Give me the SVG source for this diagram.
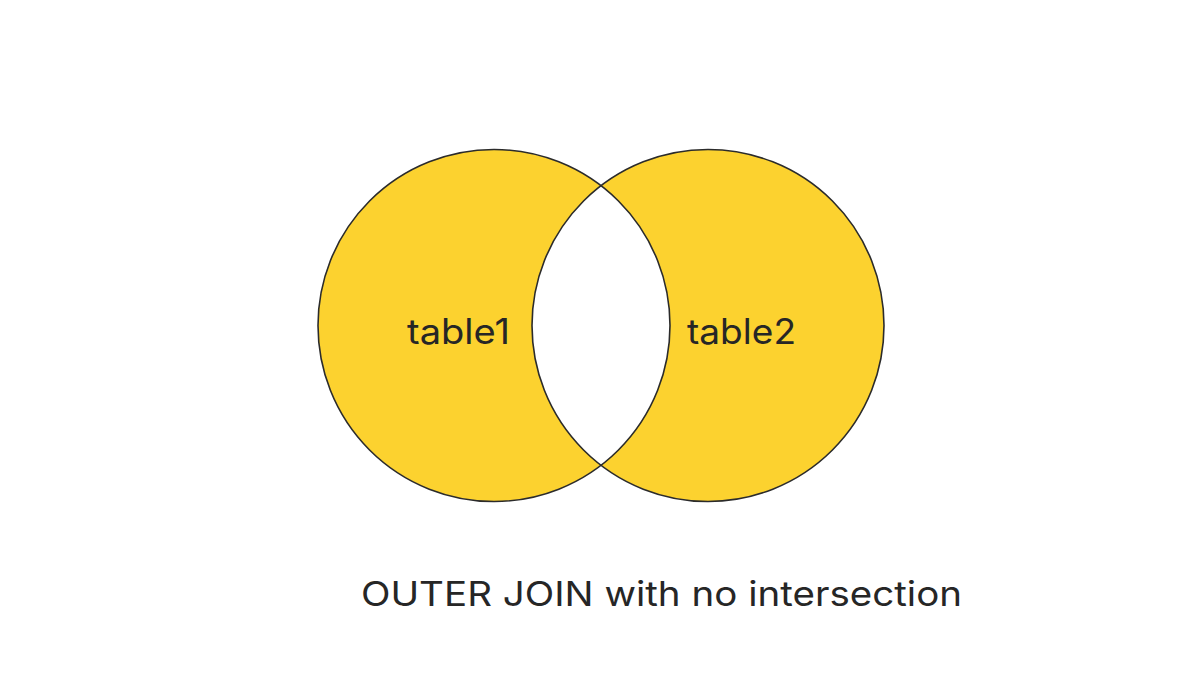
<svg xmlns="http://www.w3.org/2000/svg" width="1202" height="680" viewBox="0 0 1202 680">
<style>
.set{fill:#FCD22F;stroke:none}
.edge{fill:none;stroke:#2b2b2b;stroke-width:1.6}
.lbl{font-family:Inter,"Liberation Sans",sans-serif;fill:#262626}
</style>
<rect width="1202" height="680" fill="#ffffff"/>
<g id="table1">
<circle class="set" cx="494" cy="325.5" r="176"/>
</g>
<g id="table2">
<circle class="set" cx="708" cy="325.5" r="176"/>
</g>
<g id="intersection">
<path d="M601 185.8 A176 176 0 0 1 601 465.2 A176 176 0 0 1 601 185.8 Z" fill="#ffffff"/>
</g>
<g id="outlines">
<circle class="edge" cx="494" cy="325.5" r="176"/>
<circle class="edge" cx="708" cy="325.5" r="176"/>
</g>
<g id="labels">
<text class="lbl" x="407" y="344" font-size="35" textLength="103" lengthAdjust="spacingAndGlyphs">table1</text>
<text class="lbl" x="687" y="344" font-size="35" textLength="109" lengthAdjust="spacingAndGlyphs">table2</text>
<text class="lbl" x="361" y="606" font-size="34" textLength="601" lengthAdjust="spacingAndGlyphs">OUTER JOIN with no intersection</text>
</g>
</svg>
